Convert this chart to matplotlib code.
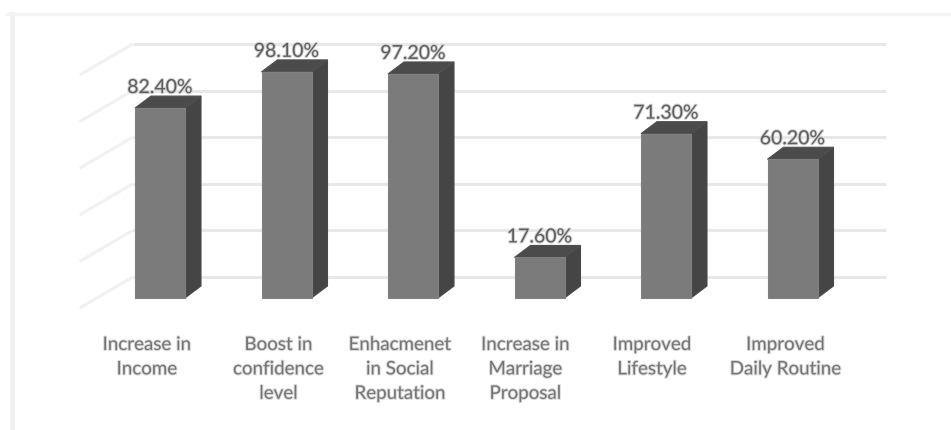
import matplotlib
matplotlib.use("Agg")
import matplotlib.pyplot as plt
import matplotlib.patheffects as pe
from matplotlib.patches import Polygon
from matplotlib.transforms import offset_copy

plt.rcParams['font.family'] = ['Lato', 'DejaVu Sans']

categories = ["Increase in\nIncome", "Boost in\nconfidence\nlevel",
              "Enhacmenet\nin Social\nReputation", "Increase in\nMarriage\nProposal",
              "Improved\nLifestyle", "Improved\nDaily Routine"]
values = [82.4, 98.1, 97.2, 17.6, 71.3, 60.2]
labels = ["82.40%", "98.10%", "97.20%", "17.60%", "71.30%", "60.20%"]
grid_vals = [0, 20, 40, 60, 80, 100]

W, H = 951, 430
fig = plt.figure(figsize=(W / 100, H / 100), dpi=100)
fig.patch.set_facecolor("white")

# front plane of the chart, in pixels
left, right, bottom, top = 96.75, 855.75, 298, 67.5
ax = fig.add_axes([left / W, 1 - bottom / H, (right - left) / W, (bottom - top) / H])
ax.set_xlim(-0.5, 5.5)
ax.set_ylim(0, 100)
ax.axis("off")

px_x = (right - left) / 6
px_y = (bottom - top) / 100
bar_w = 50 / px_x
dep_x = 16 / px_x
dep_y = 12 / px_y

# faint frame of the picture
fig.add_artist(plt.Line2D([12 / W, 12 / W], [0, 1 - 14 / H], color="#f0f0f0", lw=3.5))
fig.add_artist(plt.Line2D([7 / W, 1], [1 - 14 / H, 1 - 14 / H], color="#f4f4f4", lw=2.5))

# wall gridlines + diagonal lines on the side wall
wall_dx = 36 / px_x
wall_dy = 21 / px_y
wall_scale = 2.33 / px_y
for g in grid_vals:
    y = wall_dy + g * wall_scale
    ax.plot([-0.5 + wall_dx, 5.5 + wall_dx - 6 / px_x], [y, y], color="#e8e8e8", lw=2.2,
            clip_on=False, zorder=1, solid_capstyle="butt")
    ax.plot([-0.5 + wall_dx, -0.5 + wall_dx - 53 / px_x], [y, y - 31 / px_y], color="#f1f1f1", lw=2.2,
            clip_on=False, zorder=1, solid_capstyle="butt")

# the wrapped labels do not sit at one fixed offset from their bars
label_shift = [-13, -8, -13, -14, -14, -7]

for i, v in enumerate(values):
    x0 = i - bar_w / 2
    x1 = i + bar_w / 2
    ax.add_patch(Polygon([(x1, 0), (x1 + dep_x, dep_y), (x1 + dep_x, v + dep_y), (x1, v)],
                         closed=True, fc="#454545", ec="#4a4a4a", lw=0.8, clip_on=False, zorder=3))
    ax.add_patch(Polygon([(x0, v), (x0 + dep_x, v + dep_y), (x1 + dep_x, v + dep_y), (x1, v)],
                         closed=True, fc="#4b4b4b", ec="#505050", lw=0.8, clip_on=False, zorder=3))
    ax.add_patch(Polygon([(x0, 0), (x1, 0), (x1, v), (x0, v)],
                         closed=True, fc="#7b7b7b", ec="#808080", lw=0.8, clip_on=False, zorder=4))
    ax.annotate(labels[i], (i, v), xytext=(0, 12), textcoords="offset pixels", ha="center", va="bottom",
                fontsize=14, color="#5e5e5e", zorder=5, annotation_clip=False,
                path_effects=[pe.withStroke(linewidth=1.4, foreground="#cfcfcf")])

    trans = offset_copy(ax.transData, fig=fig, x=label_shift[i], y=-38, units="dots")
    ax.text(i, 0, categories[i], transform=trans, ha="center", va="top", fontsize=13.5,
            color="#757575", linespacing=1.53, zorder=5,
            path_effects=[pe.withStroke(linewidth=1.4, foreground="#d8d8d8")])

fig.savefig("out.png", dpi=100, facecolor="white")
